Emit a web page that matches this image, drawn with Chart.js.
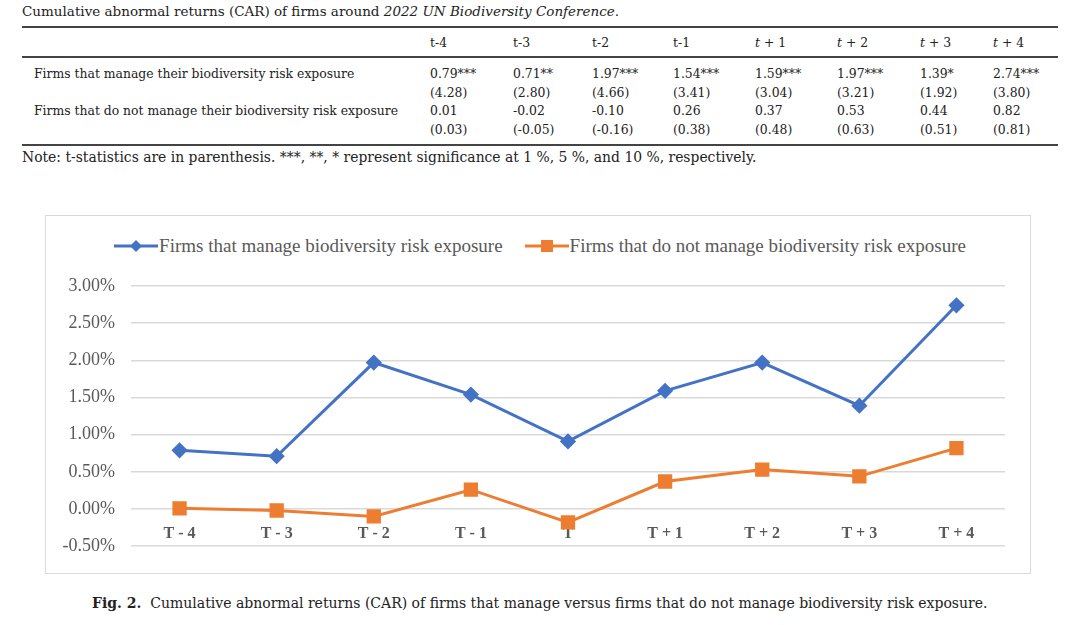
<!DOCTYPE html>
<html>
<head>
<meta charset="utf-8">
<script src="https://cdn.jsdelivr.net/npm/chart.js@4/dist/chart.umd.min.js"></script>
<style>
  body { margin: 0; width: 1080px; height: 625px; background: #fff; position: relative; overflow: hidden;
         font-family: "DejaVu Serif", "Liberation Serif", serif; color: #222; }
  .title { position: absolute; left: 22px; top: 3px; font-size: 13.5px; }
  table { position: absolute; left: 22px; top: 26px; width: 1036px; border-collapse: collapse; font-size: 12.4px; table-layout: fixed; }
  thead tr { border-top: 2px solid #444; border-bottom: 2px solid #444; }
  thead td { height: 28px; padding: 0; }
  tbody tr:last-child { border-bottom: 2px solid #444; }
  tbody td { height: 18.5px; padding: 0; line-height: 18px; }
  tbody tr:first-child td { padding-top: 7px; }
  tbody tr:last-child td { padding-bottom: 5px; }
  td:first-child { padding-left: 12px !important; }
  .note { position: absolute; left: 22px; top: 149px; font-size: 13.9px; }
  .box { position: absolute; left: 45px; top: 215px; width: 984px; height: 357px; border: 1px solid #d9d9d9; }
  #legend { position: absolute; left: 0; top: 235px; width: 1080px; text-align: center; font-family: "Liberation Serif", serif; font-size: 19px; color: #595959; white-space: nowrap; }
  #legend .item { display: inline-block; margin: 0 11px; }
  #legend canvas { vertical-align: middle; margin-right: 1px; position: relative; top: -2px; }
  #chart { position: absolute; left: 45px; top: 255px; }
  .caption { position: absolute; left: 92px; top: 595px; font-size: 14px; }
</style>
</head>
<body>
<div class="title">Cumulative abnormal returns (CAR) of firms around <i>2022 UN Biodiversity Conference</i>.</div>
<table>
  <colgroup>
    <col style="width:408px"><col style="width:83px"><col style="width:79px"><col style="width:81px">
    <col style="width:82px"><col style="width:82px"><col style="width:83px"><col style="width:73px"><col style="width:65px">
  </colgroup>
  <thead id="thead"></thead>
  <tbody id="tbody"></tbody>
</table>
<div class="note">Note: t-statistics are in parenthesis. ***, **, * represent significance at 1 %, 5 %, and 10 %, respectively.</div>

<div class="box"></div>
<div id="legend"></div>
<canvas id="chart" width="985" height="318" style="width:985px;height:318px"></canvas>
<div class="caption"><b>Fig. 2.</b>&nbsp; Cumulative abnormal returns (CAR) of firms that manage versus firms that do not manage biodiversity risk exposure.</div>

<script>
// table data
const tableHeads = ['t-4', 't-3', 't-2', 't-1', '<i>t</i> + 1', '<i>t</i> + 2', '<i>t</i> + 3', '<i>t</i> + 4'];
const manageCar = ['0.79***', '0.71**', '1.97***', '1.54***', '1.59***', '1.97***', '1.39*', '2.74***'];
const manageT = ['(4.28)', '(2.80)', '(4.66)', '(3.41)', '(3.04)', '(3.21)', '(1.92)', '(3.80)'];
const notManageCar = ['0.01', '-0.02', '-0.10', '0.26', '0.37', '0.53', '0.44', '0.82'];
const notManageT = ['(0.03)', '(-0.05)', '(-0.16)', '(0.38)', '(0.48)', '(0.63)', '(0.51)', '(0.81)'];

// chart data (CAR in %)
const periods = ['T - 4', 'T - 3', 'T - 2', 'T - 1', 'T', 'T + 1', 'T + 2', 'T + 3', 'T + 4'];
const manageSeries = [0.79, 0.71, 1.97, 1.54, 0.91, 1.59, 1.97, 1.39, 2.74];
const notManageSeries = [0.01, -0.02, -0.10, 0.26, -0.18, 0.37, 0.53, 0.44, 0.82];
const seriesNames = ['Firms that manage biodiversity risk exposure', 'Firms that do not manage biodiversity risk exposure'];

const BLUE = '#4472C4';
const ORANGE = '#ED7D31';
const GREY = '#595959';

function row(label, cells) {
    return '<tr><td>' + label + '</td>' + cells.map(c => '<td>' + c + '</td>').join('') + '</tr>';
}
document.getElementById('thead').innerHTML = row('', tableHeads);
document.getElementById('tbody').innerHTML =
    row('Firms that manage their biodiversity risk exposure', manageCar) +
    row('', manageT) +
    row('Firms that do not manage their biodiversity risk exposure', notManageCar) +
    row('', notManageT);

// legend with line + marker swatches
function swatch(color, shape) {
    const c = document.createElement('canvas');
    c.width = 44; c.height = 16;
    const ctx = c.getContext('2d');
    ctx.strokeStyle = color; ctx.fillStyle = color; ctx.lineWidth = 3;
    ctx.beginPath(); ctx.moveTo(0, 8); ctx.lineTo(44, 8); ctx.stroke();
    ctx.beginPath();
    if (shape === 'diamond') {
        ctx.moveTo(22, 2); ctx.lineTo(28, 8); ctx.lineTo(22, 14); ctx.lineTo(16, 8);
    } else {
        ctx.rect(16, 2, 12, 12);
    }
    ctx.fill();
    return c;
}
const legend = document.getElementById('legend');
[[seriesNames[0], BLUE, 'diamond'], [seriesNames[1], ORANGE, 'square']].forEach(([name, color, shape]) => {
    const item = document.createElement('span');
    item.className = 'item';
    item.appendChild(swatch(color, shape));
    item.appendChild(document.createTextNode(name));
    legend.appendChild(item);
});

new Chart(document.getElementById('chart'), {
    type: 'line',
    data: {
        labels: periods,
        datasets: [{
            label: seriesNames[0],
            data: manageSeries,
            borderColor: BLUE,
            backgroundColor: BLUE,
            borderWidth: 3,
            pointStyle: 'rectRot',
            pointRadius: 6,
            tension: 0
        }, {
            label: seriesNames[1],
            data: notManageSeries,
            borderColor: ORANGE,
            backgroundColor: ORANGE,
            borderWidth: 3,
            pointStyle: 'rect',
            pointRadius: 8,
            tension: 0
        }]
    },
    options: {
        responsive: false,
        animation: false,
        layout: { padding: { left: 0, right: 25, top: 31, bottom: 21 } },
        plugins: { legend: { display: false }, tooltip: { enabled: false } },
        scales: {
            x: {
                position: { y: 0 },
                offset: true,
                grid: { display: false },
                border: { display: false },
                ticks: { color: GREY, padding: 7, font: { family: 'Liberation Serif', size: 16, weight: 'bold' } }
            },
            y: {
                min: -0.5,
                max: 3,
                afterFit(scale) { scale.width = 86; },
                grid: { color: '#d9d9d9', lineWidth: 1.5, drawTicks: false },
                border: { display: false },
                ticks: {
                    stepSize: 0.5,
                    padding: 16,
                    color: GREY,
                    font: { family: 'Liberation Serif', size: 18 },
                    callback: v => v.toFixed(2) + '%'
                }
            }
        }
    }
});
</script>
</body>
</html>
